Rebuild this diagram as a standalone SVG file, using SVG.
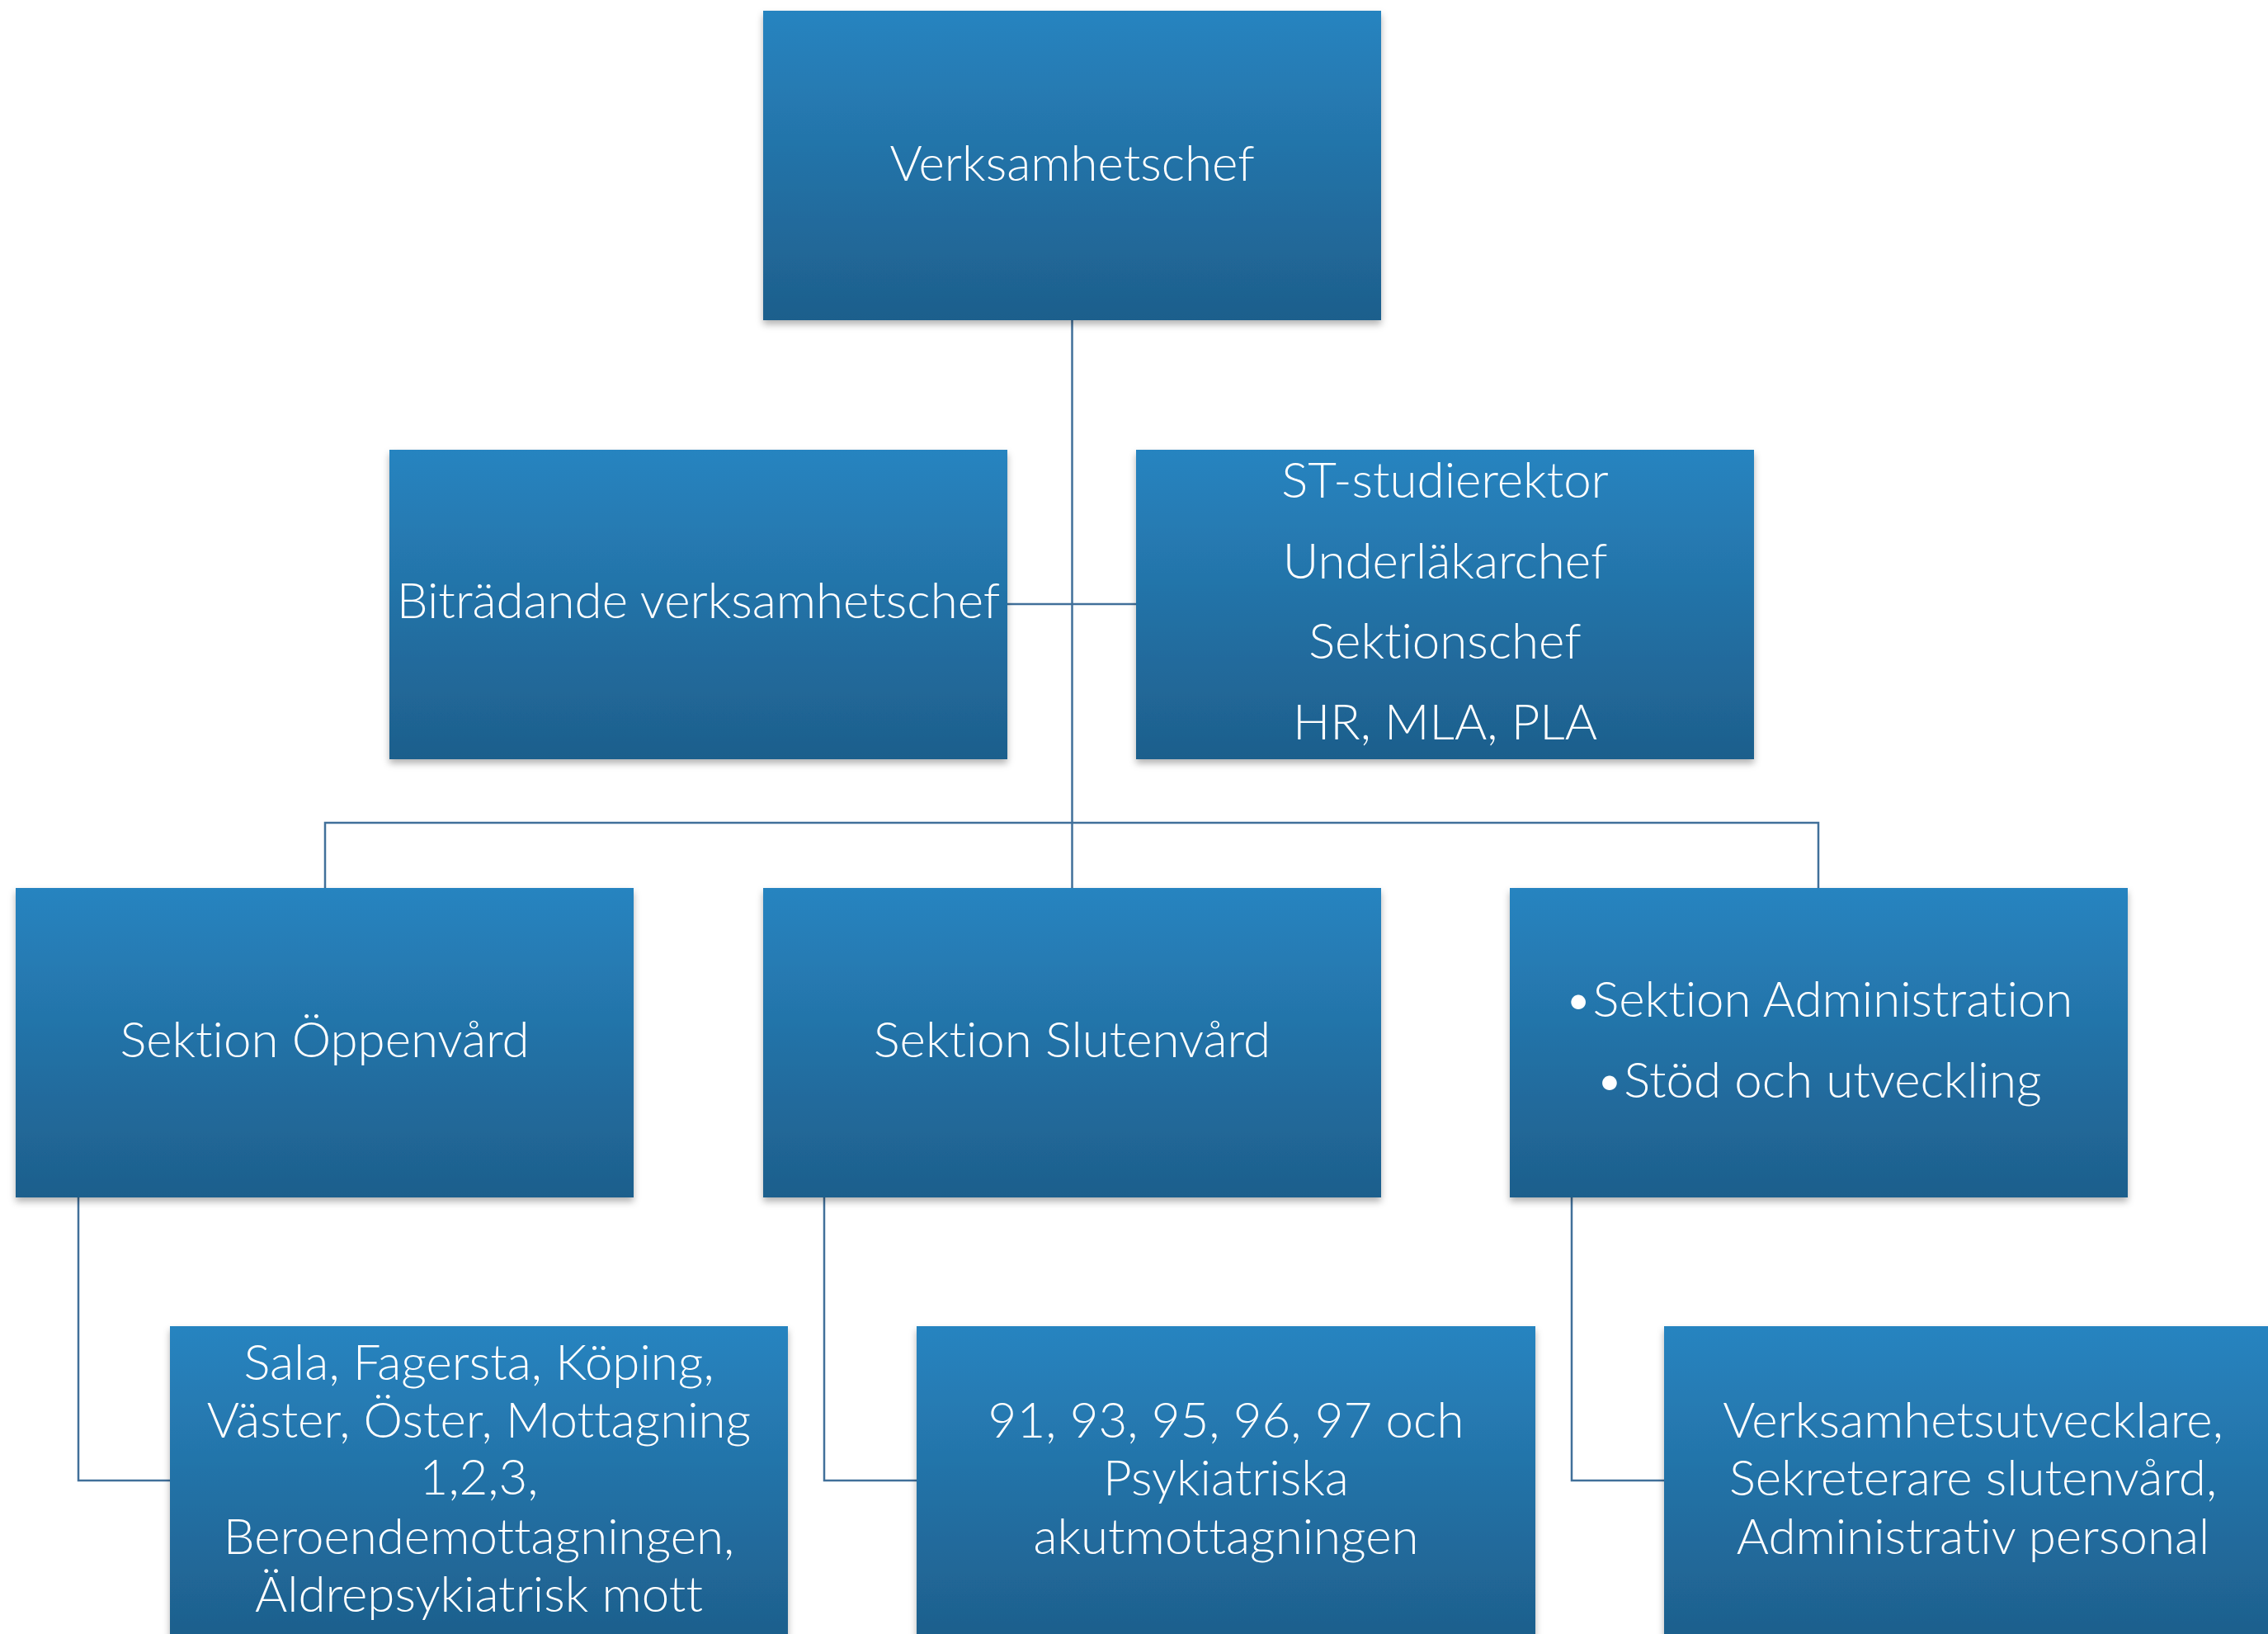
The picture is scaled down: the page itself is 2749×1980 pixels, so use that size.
<svg xmlns="http://www.w3.org/2000/svg" width="2749" height="1980" viewBox="0 0 2749 1980">
<defs>
<linearGradient id="g" x1="0" y1="0" x2="0" y2="1">
<stop offset="0" stop-color="#2884C0"/>
<stop offset="1" stop-color="#1E5F8C"/>
</linearGradient>
<filter id="sh" x="-5%" y="-5%" width="110%" height="115%">
<feDropShadow dx="0" dy="5" stdDeviation="4" flood-color="#000" flood-opacity="0.3"/>
</filter>
<style>
.box{fill:url(#g);filter:url(#sh)}
.t{font-family:Lato,"Open Sans","Liberation Sans",sans-serif;font-weight:300;font-size:60px;fill:#fff;text-anchor:middle;font-variant-ligatures:none}
.c{fill:none;stroke:#41709A;stroke-width:2.5}
</style>
</defs>
<rect width="2749" height="1980" fill="#fff"/>
<g id="connectors">
<path class="c" d="M1299.5 388 V1076"/>
<path class="c" d="M1221 732 H1377"/>
<path class="c" d="M394 1076 V997 H2204 V1076" stroke-width="3"/>
<path class="c" d="M95 1451 V1794 H206"/>
<path class="c" d="M999 1451 V1794 H1111"/>
<path class="c" d="M1905 1451 V1794 H2017"/>
</g>
<g id="verksamhetschef">
<rect class="box" x="925" y="13" width="749" height="375"/>
<text class="t" x="1299.5" y="219">Verksamhetschef</text>
</g>
<g id="bitradande">
<rect class="box" x="472" y="545" width="749" height="375"/>
<text class="t" x="846.5" y="749">Biträdande verksamhetschef</text>
</g>
<g id="stab">
<rect class="box" x="1377" y="545" width="749" height="375"/>
<text class="t" x="1751.5" y="603">ST-studierektor</text>
<text class="t" x="1751.5" y="701">Underläkarchef</text>
<text class="t" x="1751.5" y="798">Sektionschef</text>
<text class="t" x="1751.5" y="896">HR, MLA, PLA</text>
</g>
<g id="oppenvard">
<rect class="box" x="19" y="1076" width="749" height="375"/>
<text class="t" x="393.5" y="1281">Sektion Öppenvård</text>
</g>
<g id="slutenvard">
<rect class="box" x="925" y="1076" width="749" height="375"/>
<text class="t" x="1299.5" y="1281">Sektion Slutenvård</text>
</g>
<g id="administration">
<rect class="box" x="1830" y="1076" width="749" height="375"/>
<text class="t" x="2204" y="1232">•Sektion Administration</text>
<text class="t" x="2204" y="1330">•Stöd och utveckling</text>
</g>
<g id="mottagningar">
<rect class="box" x="206" y="1607" width="749" height="380"/>
<text class="t" x="580.5" y="1672">Sala, Fagersta, Köping,</text>
<text class="t" x="580.5" y="1742">Väster, Öster, Mottagning</text>
<text class="t" x="580.5" y="1811">1,2,3,</text>
<text class="t" x="580.5" y="1883">Beroendemottagningen,</text>
<text class="t" x="580.5" y="1953">Äldrepsykiatrisk mott</text>
</g>
<g id="avdelningar">
<rect class="box" x="1111" y="1607" width="750" height="380"/>
<text class="t" x="1486" y="1742">91, 93, 95, 96, 97 och</text>
<text class="t" x="1486" y="1812">Psykiatriska</text>
<text class="t" x="1486" y="1883">akutmottagningen</text>
</g>
<g id="stod">
<rect class="box" x="2017" y="1607" width="749" height="380"/>
<text class="t" x="2391.5" y="1742">Verksamhetsutvecklare,</text>
<text class="t" x="2391.5" y="1812">Sekreterare slutenvård,</text>
<text class="t" x="2391.5" y="1883">Administrativ personal</text>
</g>
</svg>
